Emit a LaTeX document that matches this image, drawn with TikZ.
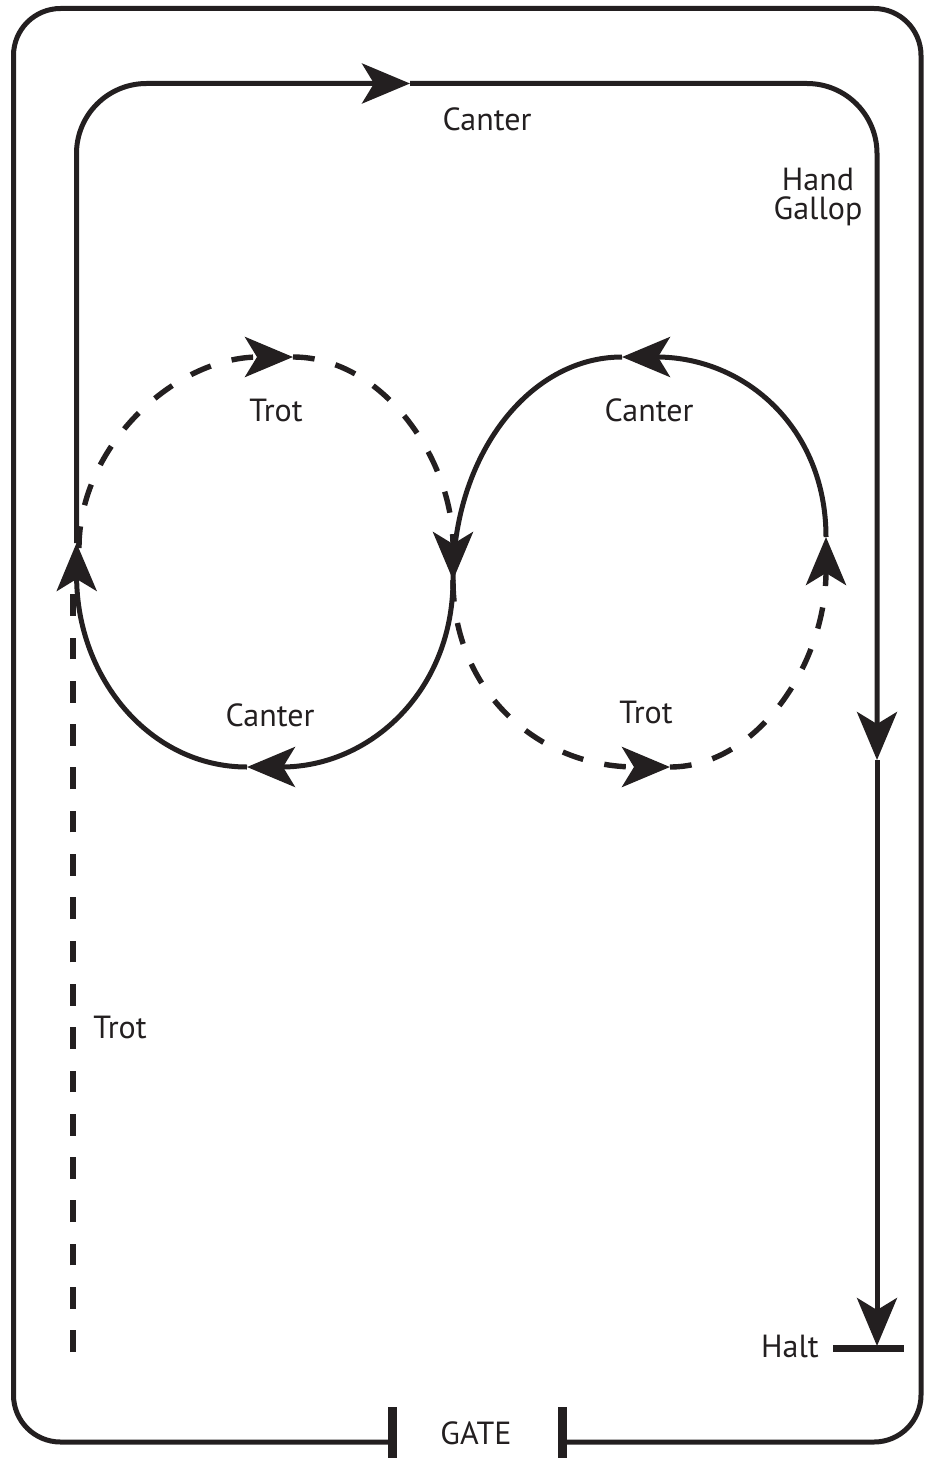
\documentclass[tikz,border=0pt]{standalone}
\usepackage{fontspec}
\setmainfont{PT Sans}
\usetikzlibrary{arrows.meta}
\definecolor{ink}{RGB}{35,31,32}
\begin{document}
\begin{tikzpicture}[x=1pt,y=-1pt,
  track/.style={line width=5pt, draw=ink},
  trot/.style={line width=5.4pt, draw=ink, dash pattern=on 21.7pt off 21.6pt},
  tip/.style={-{Stealth[length=48pt,width=40pt,inset=12pt]}},
  post/.style={line width=9pt, draw=ink},
  lbl/.style={font=\fontsize{32}{34}\selectfont, text=ink, anchor=base, inner sep=0pt}]
\useasboundingbox (0,0) rectangle (927,1458);
% arena
\draw[track, rounded corners=47pt] (392,1442) -- (13.5,1442) -- (13.5,8.5) -- (921,8.5) -- (921,1442) -- (562,1442);
\coordinate (gl1) at (392,1407); \coordinate (gl2) at (392,1458);
\coordinate (gr1) at (562,1407); \coordinate (gr2) at (562,1458);
\draw[post] (gl1) -- (gl2);
\draw[post] (gr1) -- (gr2);
% track points
\coordinate (tl) at (76.5,543);
\coordinate (ta) at (410,83.5);
\coordinate (ra) at (877,760);
\coordinate (hp) at (877,1346);
\coordinate (hb1) at (833,1348.5);
\coordinate (hb2) at (904,1348.5);
\coordinate (vs) at (73,1352);
\coordinate (ve) at (73,593);
\coordinate (R) at (453,580);
\coordinate (LS) at (79,548);
\coordinate (LT) at (293,357);
\coordinate (LB) at (247,767);
\coordinate (RT) at (622,357);
\coordinate (RB) at (670,767);
\coordinate (RE) at (826,537);
% outer canter / hand gallop track
\draw[track, tip, rounded corners=70pt] (tl) |- (ta);
\draw[track, tip, rounded corners=70pt] (ta) -| (ra);
\draw[track, tip] (ra) -- (hp);
\draw[line width=7pt, draw=ink] (hb1) -- (hb2);
% trot up the left side
\draw[trot] (vs) -- (ve);
% trot loops (dashed)
\draw[trot, tip] (LS) .. controls (79,445) and (176,357) .. (LT);
\draw[trot, tip] (LT) .. controls (382,357) and (453,458) .. (R);
\draw[trot, tip] (R) .. controls (453,693) and (540,767) .. (RB);
\draw[trot, tip] (RB) .. controls (757,767) and (826,664) .. (RE);
% canter loops (solid)
\draw[track, tip] (RE) .. controls (826,428) and (745,357) .. (RT);
\draw[track, tip] (RT) .. controls (528,357) and (453,457) .. (R) .. controls (453,690) and (371,767) .. (LB);
\draw[track, tip] (LB) .. controls (150,767) and (77,678) .. (tl);
% labels
\node[lbl] (canterTop) at (487,131) {Canter};
\node[lbl] (hand) at (818,190) {Hand};
\node[lbl] (gallop) at (818,219) {Gallop};
\node[lbl] (trotL) at (276,421) {Trot};
\node[lbl] (canterL) at (270,726) {Canter};
\node[lbl] (canterR) at (649,421) {Canter};
\node[lbl] (trotR) at (646,723) {Trot};
\node[lbl] (trotV) at (120,1038) {Trot};
\node[lbl] (halt) at (790,1357) {Halt};
\node[lbl] (gate) at (476,1444) {GATE};
\end{tikzpicture}
\end{document}
